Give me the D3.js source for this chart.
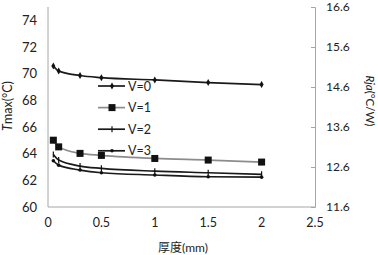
<!DOCTYPE html>
<html>
<head>
<meta charset="utf-8">
<script src="https://cdn.jsdelivr.net/npm/d3@7"></script>
<style>
  body { margin: 0; background: #fff; }
  text { font-family: Lato, "Noto Sans CJK SC", sans-serif; fill: #222; }
</style>
</head>
<body>
<svg id="chart" width="378" height="255"></svg>
<script>
// thickness (mm)
const thickness = [0.05, 0.1, 0.3, 0.5, 1, 1.5, 2];

// Tmax per wind speed
const v0 = [70.58, 70.2, 69.86, 69.7, 69.53, 69.33, 69.18];
const v1 = [65.01, 64.51, 64.02, 63.87, 63.64, 63.52, 63.37];
const v2 = [63.94, 63.52, 63.07, 62.9, 62.69, 62.57, 62.45];
const v3 = [63.47, 63.14, 62.77, 62.57, 62.4, 62.27, 62.24];

const seriesNames = ['V=0', 'V=1', 'V=2', 'V=3'];
const xTicks = [0, 0.5, 1, 1.5, 2, 2.5];
const leftTicks = [60, 62, 64, 66, 68, 70, 72, 74];
const rightTicks = [11.6, 12.6, 13.6, 14.6, 15.6, 16.6];

const series = [
    { name: seriesNames[0], values: v0, marker: 'diamond', stroke: '#1a1a1a' },
    { name: seriesNames[1], values: v1, marker: 'square', stroke: '#8c8c8c' },
    { name: seriesNames[2], values: v2, marker: 'plus', stroke: '#1a1a1a' },
    { name: seriesNames[3], values: v3, marker: 'dot', stroke: '#1a1a1a' }
];

const svg = d3.select('#chart');
const plot = { left: 48, right: 315, top: 7, bottom: 207 };

let x = d3.scaleLinear().domain([0, 2.5]).range([plot.left, plot.right]),
    y = d3.scaleLinear().domain([60, 75]).range([plot.bottom, plot.top]),
    y2 = d3.scaleLinear().domain([11.6, 16.6]).range([plot.bottom, plot.top]);

// axis lines
svg.append('line')
    .attr('x1', plot.left).attr('x2', plot.left)
    .attr('y1', plot.top).attr('y2', plot.bottom)
    .attr('stroke', '#a6a6a6');
svg.append('line')
    .attr('x1', plot.left).attr('x2', plot.right)
    .attr('y1', plot.bottom).attr('y2', plot.bottom)
    .attr('stroke', '#a6a6a6');

// right axis
let rightAxis = svg.append('g')
    .attr('transform', `translate(${plot.right},0)`)
    .call(d3.axisLeft(y2).tickValues(rightTicks).tickSize(4).tickFormat(d3.format('.1f')));
rightAxis.select('.domain').attr('stroke', '#a6a6a6');
rightAxis.selectAll('line').attr('stroke', '#a6a6a6');
rightAxis.selectAll('text')
    .attr('x', 11).attr('text-anchor', 'start')
    .style('font-size', '12px');

// left tick labels
svg.append('g')
    .selectAll('text')
    .data(leftTicks)
    .enter()
    .append('text')
    .attr('x', 37)
    .attr('y', d => y(d))
    .attr('dy', '0.36em')
    .attr('text-anchor', 'end')
    .style('font-size', '13px')
    .text(d => d);

// bottom tick labels
svg.append('g')
    .selectAll('text')
    .data(xTicks)
    .enter()
    .append('text')
    .attr('x', d => x(d))
    .attr('y', 227)
    .attr('text-anchor', 'middle')
    .style('font-size', '12.5px')
    .text(d => d);

// axis titles
svg.append('text')
    .attr('x', 183).attr('y', 252)
    .attr('text-anchor', 'middle')
    .style('font-size', '12px')
    .text('厚度(mm)');

let lt = svg.append('text')
    .attr('transform', 'translate(12,106) rotate(-90)')
    .attr('text-anchor', 'middle')
    .style('font-size', '12.5px');
lt.append('tspan').style('font-style', 'italic').text('T');
lt.append('tspan').text('max(°C)');

let rt = svg.append('text')
    .attr('transform', 'translate(366,101) rotate(90)')
    .attr('text-anchor', 'middle')
    .style('font-size', '11.5px');
rt.append('tspan').style('font-style', 'italic').text('Rja');
rt.append('tspan').text('(°C/W)');

function drawMarker(g, type, cx, cy) {
    if (type == 'diamond') {
        g.append('path')
            .attr('d', d3.symbol(d3.symbolDiamond, 14)())
            .attr('transform', `translate(${cx},${cy})`)
            .attr('fill', '#111');
    } else if (type == 'square') {
        g.append('rect')
            .attr('x', cx - 3.5).attr('y', cy - 3.5)
            .attr('width', 7).attr('height', 7)
            .attr('fill', '#111');
    } else if (type == 'plus') {
        g.append('line')
            .attr('x1', cx).attr('x2', cx)
            .attr('y1', cy - 3).attr('y2', cy + 3)
            .attr('stroke', '#111').attr('stroke-width', 1.2);
    } else {
        g.append('circle')
            .attr('cx', cx).attr('cy', cy).attr('r', 1.8)
            .attr('fill', '#111');
    }
}

const line = d3.line()
    .x(d => x(d[0]))
    .y(d => y(d[1]))
    .curve(d3.curveMonotoneX);

series.forEach(s => {
    let pts = thickness.map((t, i) => [t, s.values[i]]);
    let g = svg.append('g');
    g.append('path')
        .datum(pts)
        .attr('fill', 'none')
        .attr('stroke', s.stroke)
        .attr('stroke-width', 1.7)
        .attr('d', line);
    pts.forEach(p => drawMarker(g, s.marker, x(p[0]), y(p[1])));
});

// legend
let legend = svg.append('g');
series.forEach((s, i) => {
    let ly = 86 + i * 21.6;
    legend.append('line')
        .attr('x1', 98).attr('x2', 125)
        .attr('y1', ly).attr('y2', ly)
        .attr('stroke', s.stroke)
        .attr('stroke-width', 1.7);
    drawMarker(legend, s.marker, 112, ly);
    legend.append('text')
        .attr('x', 128).attr('y', ly)
        .attr('dy', '0.36em')
        .style('font-size', '12.5px')
        .text(s.name);
});
</script>
</body>
</html>
